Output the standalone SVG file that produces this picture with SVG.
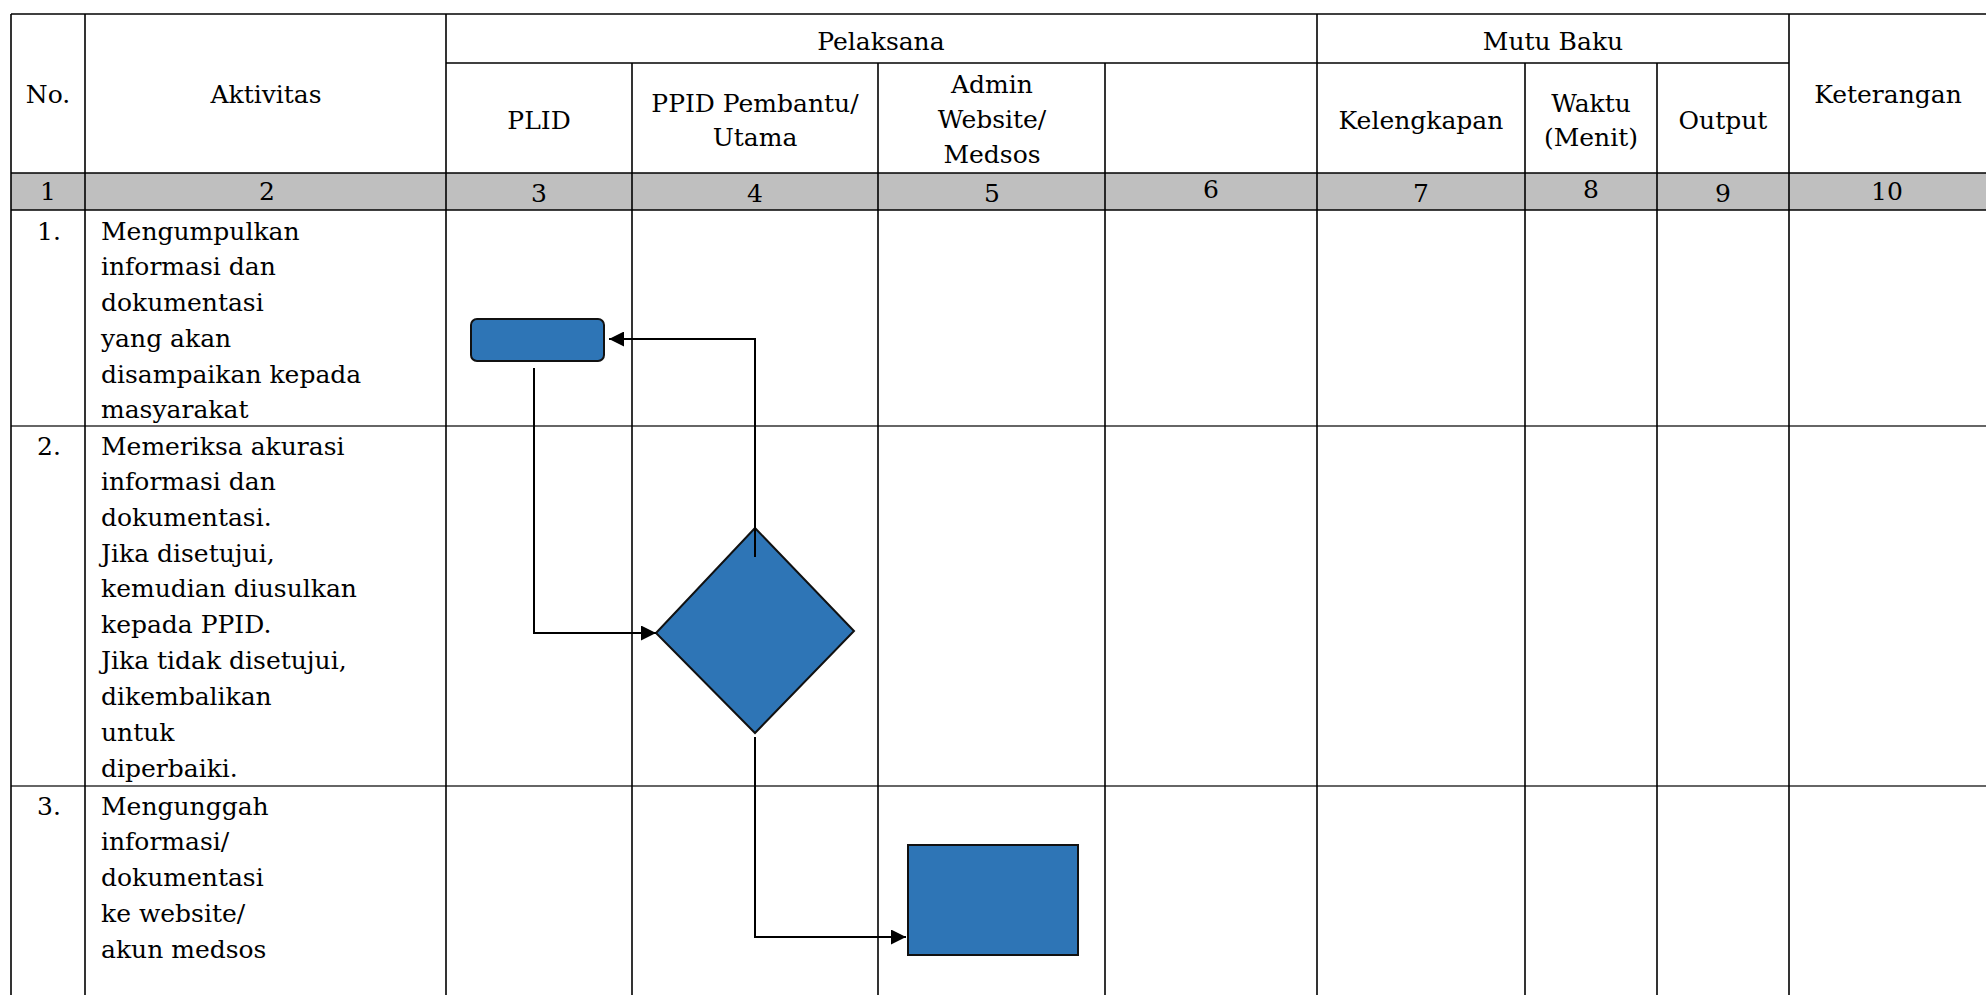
<svg xmlns="http://www.w3.org/2000/svg" width="1986" height="995" viewBox="0 0 1986 995">
<style>
text{font-family:"DejaVu Serif","Liberation Serif",serif;font-size:25px;fill:#000}
.c{text-anchor:middle}
.grid line{stroke:#000;stroke-width:1.6}
.grid line.h{stroke:#333;stroke-width:1.6}
.shape{fill:#2e75b6;stroke:#111;stroke-width:2}
.conn{fill:none;stroke:#000;stroke-width:2}
</style>
<defs>
<marker id="arr" viewBox="0 0 10 10" refX="10" refY="5" markerWidth="16" markerHeight="15" markerUnits="userSpaceOnUse" orient="auto">
<path d="M0,0 L10,5 L0,10 z" fill="#000"/>
</marker>
</defs>
<rect x="0" y="0" width="1986" height="995" fill="#fff"/>
<rect x="11" y="173" width="1975" height="37" fill="#bfbfbf"/>
<g class="grid" id="grid">
<line x1="11" y1="14" x2="1986" y2="14"/>
<line x1="446" y1="63" x2="1789" y2="63"/>
<line x1="11" y1="173" x2="1986" y2="173"/>
<line x1="11" y1="210" x2="1986" y2="210"/>
<line class="h" x1="11" y1="426" x2="1986" y2="426"/>
<line class="h" x1="11" y1="786" x2="1986" y2="786"/>
<line x1="11" y1="14" x2="11" y2="995"/>
<line x1="85" y1="14" x2="85" y2="995"/>
<line x1="446" y1="14" x2="446" y2="995"/>
<line x1="632" y1="63" x2="632" y2="995"/>
<line x1="878" y1="63" x2="878" y2="995"/>
<line x1="1105" y1="63" x2="1105" y2="995"/>
<line x1="1317" y1="14" x2="1317" y2="995"/>
<line x1="1525" y1="63" x2="1525" y2="995"/>
<line x1="1657" y1="63" x2="1657" y2="995"/>
<line x1="1789" y1="14" x2="1789" y2="995"/>
</g>
<g id="header">
<text class="c" x="881" y="50">Pelaksana</text>
<text class="c" x="1553" y="50">Mutu Baku</text>
<text class="c" x="48" y="103">No.</text>
<text class="c" x="266" y="103">Aktivitas</text>
<text class="c" x="1888" y="103">Keterangan</text>
<text class="c" x="539" y="129">PLID</text>
<text class="c" x="755" y="112">PPID Pembantu/</text>
<text class="c" x="755" y="146">Utama</text>
<text class="c" x="992" y="93">Admin</text>
<text class="c" x="992" y="128">Website/</text>
<text class="c" x="992" y="163">Medsos</text>
<text class="c" x="1421" y="129">Kelengkapan</text>
<text class="c" x="1591" y="112">Waktu</text>
<text class="c" x="1591" y="146">(Menit)</text>
<text class="c" x="1723" y="129">Output</text>
</g>
<g id="colnums">
<text class="c" x="48" y="200">1</text>
<text class="c" x="267" y="200">2</text>
<text class="c" x="539" y="202">3</text>
<text class="c" x="755" y="202">4</text>
<text class="c" x="992" y="202">5</text>
<text class="c" x="1211" y="198">6</text>
<text class="c" x="1421" y="202">7</text>
<text class="c" x="1591" y="198">8</text>
<text class="c" x="1723" y="202">9</text>
<text class="c" x="1887" y="200">10</text>
</g>
<g id="row1">
<text class="c" x="49" y="240">1.</text>
<text x="101" y="240">Mengumpulkan</text>
<text x="101" y="275">informasi dan</text>
<text x="101" y="311">dokumentasi</text>
<text x="101" y="347">yang akan</text>
<text x="101" y="383">disampaikan kepada</text>
<text x="101" y="418">masyarakat</text>
</g>
<g id="row2">
<text class="c" x="49" y="455">2.</text>
<text x="101" y="455">Memeriksa akurasi</text>
<text x="101" y="490">informasi dan</text>
<text x="101" y="526">dokumentasi.</text>
<text x="101" y="562">Jika disetujui,</text>
<text x="101" y="597">kemudian diusulkan</text>
<text x="101" y="633">kepada PPID.</text>
<text x="101" y="669">Jika tidak disetujui,</text>
<text x="101" y="705">dikembalikan</text>
<text x="101" y="741">untuk</text>
<text x="101" y="777">diperbaiki.</text>
</g>
<g id="row3">
<text class="c" x="49" y="815">3.</text>
<text x="101" y="815">Mengunggah</text>
<text x="101" y="850">informasi/</text>
<text x="101" y="886">dokumentasi</text>
<text x="101" y="922">ke website/</text>
<text x="101" y="958">akun medsos</text>
</g>
<g id="node-collect">
<rect class="shape" x="471" y="319" width="133" height="42" rx="6" ry="6"/>
</g>
<g id="node-decision">
<polygon class="shape" points="755,528 854,631 755,733 656,633"/>
</g>
<g id="node-upload">
<rect class="shape" x="908" y="845" width="170" height="110"/>
</g>
<g id="connectors">
<polyline class="conn" points="534,368 534,633 656,633" marker-end="url(#arr)"/>
<polyline class="conn" points="755,557 755,339 609,339" marker-end="url(#arr)"/>
<polyline class="conn" points="755,737 755,937 906,937" marker-end="url(#arr)"/>
</g>
</svg>
